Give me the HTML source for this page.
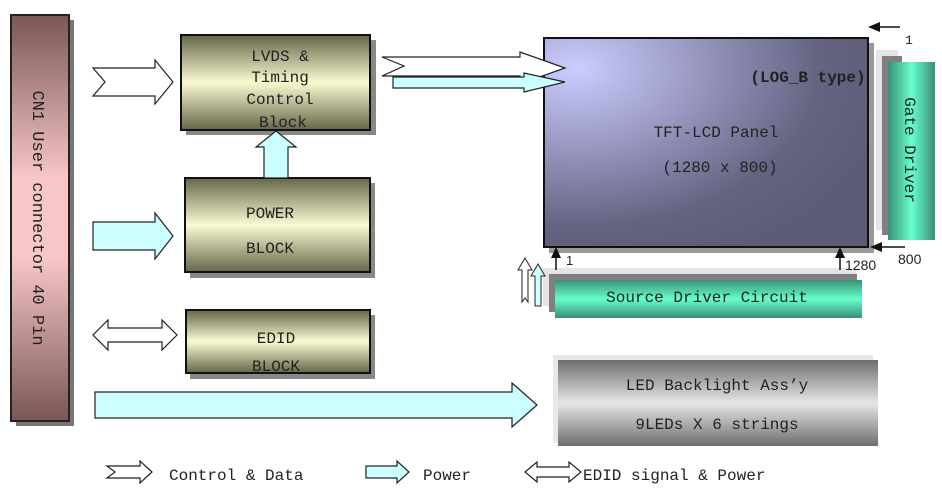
<!DOCTYPE html>
<html><head><meta charset="utf-8"><style>
body{margin:0;background:#fff;}
svg{display:block;}
text{font-family:"Liberation Mono","DejaVu Sans Mono",monospace;fill:#222;}
</style></head><body>
<svg width="942" height="494" viewBox="0 0 942 494" xmlns="http://www.w3.org/2000/svg">
<defs>
<linearGradient id="cn" x1="0" y1="0" x2="0" y2="1">
<stop offset="0" stop-color="#7a5656"/><stop offset="0.4" stop-color="#f7c6c6"/><stop offset="0.6" stop-color="#f7c6c6"/><stop offset="1" stop-color="#7a5656"/></linearGradient>
<linearGradient id="ol" x1="0" y1="0" x2="0" y2="1">
<stop offset="0" stop-color="#66664a"/><stop offset="0.5" stop-color="#fafad2"/><stop offset="1" stop-color="#66664a"/></linearGradient>
<linearGradient id="gr" x1="0" y1="0" x2="0" y2="1">
<stop offset="0" stop-color="#3a8f78"/><stop offset="0.5" stop-color="#66ffcc"/><stop offset="1" stop-color="#3a8f78"/></linearGradient>
<linearGradient id="grh" x1="0" y1="0" x2="1" y2="0">
<stop offset="0" stop-color="#3a8f78"/><stop offset="0.5" stop-color="#66ffcc"/><stop offset="1" stop-color="#3a8f78"/></linearGradient>
<linearGradient id="gy" x1="0" y1="0" x2="0" y2="1">
<stop offset="0" stop-color="#6e6e6e"/><stop offset="0.5" stop-color="#e6e6e6"/><stop offset="1" stop-color="#6e6e6e"/></linearGradient>
<radialGradient id="pn" cx="0.1" cy="0.15" r="1">
<stop offset="0" stop-color="#ccccff"/><stop offset="0.75" stop-color="#646482"/><stop offset="1" stop-color="#5c5c78"/></radialGradient>
</defs>

<!-- CN1 -->
<rect x="16" y="20" width="58" height="406" fill="#777"/>
<rect x="11" y="15" width="58" height="406" fill="url(#cn)" stroke="#222" stroke-width="2"/>
<text transform="translate(33,218) rotate(90)" font-size="17" text-anchor="middle">CN1 User connector 40 Pin</text>

<!-- LVDS -->
<rect x="186" y="40" width="190" height="95" fill="#888"/>
<rect x="181" y="35" width="189" height="95" fill="url(#ol)" stroke="#111" stroke-width="2"/>
<text x="280" y="61" font-size="16" text-anchor="middle">LVDS &amp;</text>
<text x="280" y="82" font-size="16" text-anchor="middle">Timing</text>
<text x="280" y="104" font-size="16" text-anchor="middle">Control</text>
<text x="283" y="127" font-size="16" text-anchor="middle">Block</text>

<!-- POWER -->
<rect x="190" y="183" width="185" height="95" fill="#888"/>
<rect x="185" y="178" width="185" height="94" fill="url(#ol)" stroke="#111" stroke-width="2"/>
<text x="270" y="218" font-size="16" text-anchor="middle">POWER</text>
<text x="270" y="253" font-size="16" text-anchor="middle">BLOCK</text>

<!-- EDID -->
<rect x="190" y="315" width="185" height="64" fill="#888"/>
<rect x="186" y="310" width="184" height="63" fill="url(#ol)" stroke="#111" stroke-width="2"/>
<text x="276" y="343" font-size="16" text-anchor="middle">EDID</text>
<text x="276" y="371" font-size="16" text-anchor="middle">BLOCK</text>

<!-- up arrow power->lvds -->
<polygon points="264,178 264,147 256,147 276,131 296,147 288,147 288,178" fill="#ccffff" stroke="#222" stroke-width="1.2"/>

<!-- input arrows -->
<polygon points="93,68 155,68 155,60 173,82 155,104 155,96 93,96 105,82" fill="#fff" stroke="#222" stroke-width="1.2"/>
<polygon points="93,222 155,222 155,213 173,236 155,259 155,250 93,250" fill="#ccffff" stroke="#222" stroke-width="1.2"/>
<polygon points="93,335 108,320 108,328 162,328 162,320 177,335 162,350 162,342 108,342 108,350" fill="#fff" stroke="#222" stroke-width="1.2"/>
<polygon points="95,392 512,392 512,383 537,405 512,427 512,418 95,418" fill="#ccffff" stroke="#222" stroke-width="1.2"/>

<!-- panel -->
<rect x="549" y="43" width="325" height="210" fill="#999"/>
<rect x="544" y="38" width="324" height="209" fill="url(#pn)" stroke="#111" stroke-width="2"/>
<text x="808" y="82" font-size="16" font-weight="bold" text-anchor="middle" fill="#111">(LOG_B type)</text>
<text x="716" y="137" font-size="16" text-anchor="middle">TFT-LCD Panel</text>
<text x="720" y="172" font-size="16" text-anchor="middle">(1280 x 800)</text>

<!-- arrows into panel -->
<polygon points="382,57 520,57 520,52 565,68 520,84 520,76 382,76 404,66" fill="#fff" stroke="#222" stroke-width="1.2"/>
<polygon points="393,77 524,77 524,73 565,82 524,92 524,88 393,88" fill="#ccffff" stroke="#222" stroke-width="1.2"/>

<!-- gate driver -->
<rect x="876" y="50" width="22" height="180" fill="#e4e4e4"/>
<rect x="882" y="56" width="20" height="179" fill="#808080"/>
<rect x="888" y="62" width="47" height="178" fill="url(#grh)"/>
<text transform="translate(905,150) rotate(90)" font-size="16" text-anchor="middle">Gate Driver</text>
<line x1="875" y1="27" x2="900" y2="27" stroke="#111" stroke-width="1.5"/>
<polygon points="868,27 880,22 880,32" fill="#111"/>
<text x="905" y="44" font-size="13" fill="#333">1</text>
<line x1="878" y1="247" x2="905" y2="247" stroke="#111" stroke-width="1.5"/>
<polygon points="870,247 882,242 882,252" fill="#111"/>
<text x="898" y="264" font-size="14" font-family="Liberation Sans" fill="#222" style="font-family:'Liberation Sans',sans-serif">800</text>

<!-- source driver -->
<rect x="543" y="268" width="313" height="38" fill="#e4e4e4"/>
<rect x="549" y="274" width="308" height="38" fill="#808080"/>
<rect x="555" y="280" width="307" height="38" fill="url(#gr)"/>
<text x="707" y="302" font-size="16" text-anchor="middle">Source Driver Circuit</text>
<line x1="556" y1="270" x2="556" y2="255" stroke="#111" stroke-width="1.5"/>
<polygon points="556,247 551,258 561,258" fill="#111"/>
<text x="566" y="265" font-size="13" style="font-family:'Liberation Sans',sans-serif">1</text>
<line x1="840" y1="270" x2="840" y2="255" stroke="#111" stroke-width="1.5"/>
<polygon points="840,247 835,258 845,258" fill="#111"/>
<text x="845" y="270" font-size="14" style="font-family:'Liberation Sans',sans-serif">1280</text>
<!-- small up arrows -->
<polygon points="522,302 522,270 518,270 525,258 532,270 528,270 528,302 525,298" fill="#fff" stroke="#222" stroke-width="1"/>
<polygon points="535,306 535,276 531,276 538,264 545,276 541,276 541,306" fill="#ccffff" stroke="#222" stroke-width="1"/>

<!-- LED backlight -->
<rect x="553" y="355" width="320" height="88" fill="#e8e8e8"/>
<rect x="558" y="360" width="320" height="86" fill="url(#gy)"/>
<text x="717" y="390" font-size="16" text-anchor="middle">LED Backlight Ass’y</text>
<text x="717" y="429" font-size="16" text-anchor="middle">9LEDs X 6 strings</text>

<!-- legend -->
<polygon points="107,466 140,466 140,461 152,472 140,483 140,478 107,478 115,472" fill="#fff" stroke="#222" stroke-width="1.2"/>
<text x="169" y="480" font-size="16">Control &amp; Data</text>
<polygon points="366,466 397,466 397,461 409,472 397,483 397,478 366,478" fill="#ccffff" stroke="#222" stroke-width="1.2"/>
<text x="423" y="480" font-size="16">Power</text>
<polygon points="525,472 537,462 537,467 569,467 569,462 581,472 569,482 569,477 537,477 537,482" fill="#fff" stroke="#222" stroke-width="1.2"/>
<text x="583" y="480" font-size="16">EDID signal &amp; Power</text>
</svg>
</body></html>
